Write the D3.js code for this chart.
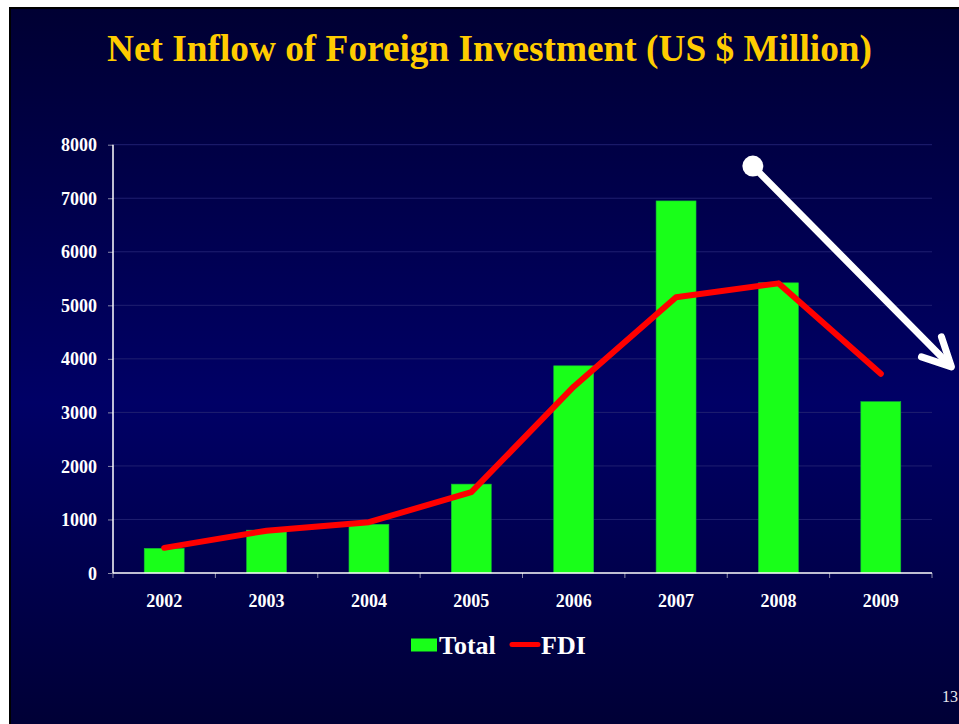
<!DOCTYPE html>
<html>
<head>
    <meta charset="UTF-8">
    <title>Net Inflow of Foreign Investment</title>
    <style>
        body { margin: 0; background: #ffffff; }
        svg { display: block; }
        .serif { font-family: "Liberation Serif", "Times New Roman", serif; }
        .tick-label { font: bold 18px "Liberation Serif", "Times New Roman", serif; fill: #ffffff; }
    </style>
    <script src="https://d3js.org/d3.v7.min.js"></script>
</head>
<body>
<div id="chart"></div>

<script>
    // data
    const years = ["2002", "2003", "2004", "2005", "2006", "2007", "2008", "2009"];
    const totalValues = [460, 800, 910, 1660, 3870, 6950, 5420, 3200];
    const fdiValues = [470, 790, 950, 1510, 3480, 5150, 5410, 3720];
    const yTicks = [0, 1000, 2000, 3000, 4000, 5000, 6000, 7000, 8000];
    const seriesNames = ["Total", "FDI"];

    const W = 959, H = 724;
    const plot = {left: 113, right: 932, top: 144.7, bottom: 573};

    const svg = d3.select("#chart")
        .append("svg")
            .attr("width", W)
            .attr("height", H);

    // slide background
    const defs = svg.append("defs");
    const grad = defs.append("linearGradient")
        .attr("id", "bg")
        .attr("x1", 0).attr("y1", 0).attr("x2", 0).attr("y2", 1);
    grad.append("stop").attr("offset", "0%").attr("stop-color", "#000033");
    grad.append("stop").attr("offset", "55%").attr("stop-color", "#000066");
    grad.append("stop").attr("offset", "100%").attr("stop-color", "#000036");

    svg.append("rect")
        .attr("x", 9).attr("y", 7)
        .attr("width", W - 9).attr("height", H - 7)
        .attr("fill", "#000000");
    svg.append("rect")
        .attr("x", 11).attr("y", 9)
        .attr("width", W - 11).attr("height", H - 9)
        .attr("fill", "url(#bg)");

    // title
    svg.append("text")
        .attr("class", "serif")
        .attr("x", 489.5)
        .attr("y", 61)
        .attr("text-anchor", "middle")
        .attr("textLength", 765)
        .attr("lengthAdjust", "spacingAndGlyphs")
        .style("font-size", "37px")
        .style("font-weight", "bold")
        .style("fill", "#FFCC00")
        .text("Net Inflow of Foreign Investment (US $ Million)");

    // scales
    const x = d3.scaleBand()
        .domain(years)
        .range([plot.left, plot.right])
        .paddingInner(0.61)
        .paddingOuter(0.305);

    const xc = d => x(d) + x.bandwidth() / 2;

    // continuous helper over the category slots (for the arrow)
    const slot = d3.scaleLinear()
        .domain([0, years.length])
        .range([plot.left, plot.right]);

    const y = d3.scaleLinear()
        .domain([0, 8000])
        .range([plot.bottom, plot.top]);

    // gridlines
    svg.append("g")
        .selectAll("line")
        .data(yTicks.filter(d => d > 0))
        .join("line")
            .attr("x1", plot.left)
            .attr("x2", plot.right)
            .attr("y1", d => y(d))
            .attr("y2", d => y(d))
            .attr("stroke", "#1f1f70")
            .attr("stroke-width", 1);

    // Y axis
    const yAxis = svg.append("g")
        .attr("transform", `translate(${plot.left},0)`)
        .call(d3.axisLeft(y).tickValues(yTicks).tickSize(5).tickPadding(11).tickFormat(d3.format("d")));
    yAxis.select(".domain").remove();
    yAxis.selectAll(".tick line").attr("stroke", "#8a8aa8");
    yAxis.selectAll("text").attr("class", "tick-label").attr("dy", "0.34em");
    svg.append("line")
        .attr("x1", plot.left).attr("x2", plot.left)
        .attr("y1", plot.top).attr("y2", plot.bottom)
        .attr("stroke", "#ffffff").attr("stroke-width", 1.5);

    // X axis ticks at slot boundaries
    svg.append("g")
        .selectAll("line")
        .data(d3.range(years.length + 1))
        .join("line")
            .attr("x1", d => slot(d))
            .attr("x2", d => slot(d))
            .attr("y1", plot.bottom)
            .attr("y2", plot.bottom + 5)
            .attr("stroke", "#8a8aa8");

    svg.append("g")
        .selectAll("text")
        .data(years)
        .join("text")
            .attr("class", "tick-label")
            .attr("x", d => xc(d))
            .attr("y", 607)
            .attr("text-anchor", "middle")
            .text(d => d);

    // bars
    svg.append("g")
        .selectAll("rect")
        .data(years)
        .join("rect")
            .attr("x", d => x(d))
            .attr("y", (d, i) => y(totalValues[i]))
            .attr("width", x.bandwidth())
            .attr("height", (d, i) => y(0) - y(totalValues[i]))
            .attr("fill", "#19FF19")
            .attr("stroke", "#14b83a")
            .attr("stroke-width", 0.6);

    // x axis line on top of bars
    svg.append("line")
        .attr("x1", plot.left).attr("x2", plot.right)
        .attr("y1", plot.bottom).attr("y2", plot.bottom)
        .attr("stroke", "#ffffff").attr("stroke-width", 1.5);

    // FDI line
    const line = d3.line()
        .x((d, i) => xc(years[i]))
        .y(d => y(d));

    svg.append("path")
        .datum(fdiValues)
        .attr("d", line)
        .attr("fill", "none")
        .attr("stroke", "#FF0000")
        .attr("stroke-width", 6)
        .attr("stroke-linejoin", "round")
        .attr("stroke-linecap", "round");

    // trend arrow
    const arrowStart = [slot(6.25), y(7600)];
    const arrowEnd = [slot(8.19), y(3850)];
    const arrow = svg.append("g").attr("stroke", "#ffffff").attr("fill", "none")
        .attr("stroke-width", 7).attr("stroke-linecap", "round").attr("stroke-linejoin", "round");
    arrow.append("line")
        .attr("x1", arrowStart[0]).attr("y1", arrowStart[1])
        .attr("x2", arrowEnd[0] - 4).attr("y2", arrowEnd[1] - 4);
    arrow.append("polyline")
        .attr("points", [
            [arrowEnd[0] - 30, arrowEnd[1] - 10],
            arrowEnd,
            [arrowEnd[0] - 10, arrowEnd[1] - 30]
        ].map(p => p.join(",")).join(" "));
    svg.append("circle")
        .attr("cx", arrowStart[0]).attr("cy", arrowStart[1])
        .attr("r", 10.5)
        .attr("fill", "#ffffff");

    // legend
    const legend = svg.append("g").attr("class", "serif");
    legend.append("rect")
        .attr("x", 411).attr("y", 638.5)
        .attr("width", 26).attr("height", 13)
        .attr("fill", "#19FF19");
    legend.append("text")
        .attr("x", 439).attr("y", 653.5)
        .style("font-size", "26px").style("font-weight", "bold").style("fill", "#ffffff")
        .text(seriesNames[0]);
    legend.append("line")
        .attr("x1", 512).attr("x2", 538)
        .attr("y1", 644.5).attr("y2", 644.5)
        .attr("stroke", "#FF0000").attr("stroke-width", 5).attr("stroke-linecap", "round");
    legend.append("text")
        .attr("x", 541).attr("y", 653.5)
        .style("font-size", "26px").style("font-weight", "bold").style("fill", "#ffffff")
        .text(seriesNames[1]);

    // slide number
    svg.append("text")
        .attr("class", "serif")
        .attr("x", 958).attr("y", 702)
        .attr("text-anchor", "end")
        .style("font-size", "16px")
        .style("fill", "#e8e8f0")
        .text("13");
</script>
</body>
</html>
